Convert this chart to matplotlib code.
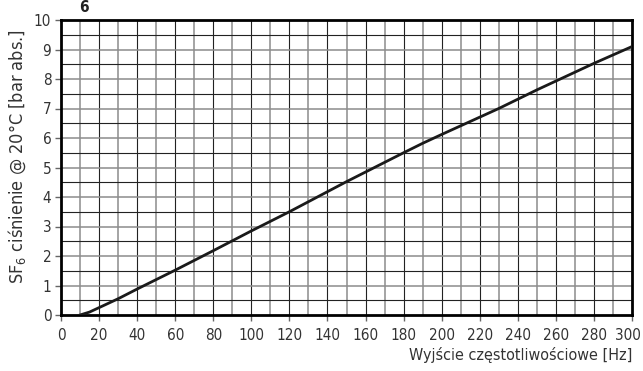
import numpy as np
import matplotlib
matplotlib.use("Agg")
import matplotlib.pyplot as plt
import matplotlib.transforms as mtransforms

plt.rcParams['font.family'] = ['DejaVu Sans']
plt.rcParams['font.stretch'] = 'condensed'

# krzywa cisnienia SF6 w funkcji czestotliwosci wyjsciowej
freq = [10, 15, 20, 30, 40, 50, 60, 80, 100, 120, 150, 180, 190, 200, 230, 250, 280, 300]
pressure = [0.0, 0.1, 0.25, 0.55, 0.88, 1.2, 1.52, 2.18, 2.85, 3.5, 4.52, 5.5, 5.82, 6.12, 7.0, 7.63, 8.53, 9.1]

xticks = list(range(0, 301, 20))
yticks = list(range(0, 11))

txt = '#333333'

fig = plt.figure(figsize=(6.43, 3.71), dpi=100)
ax = fig.add_axes([61/643, 56/371, 571/643, 295/371])

# siatka: linie szare i czarne naprzemiennie
for x in range(10, 300, 10):
    if x % 20 == 0:
        ax.axvline(x, color='#222222', lw=0.8, zorder=1)
    else:
        ax.axvline(x, color='#8c8c8c', lw=1.1, zorder=1)
for k in range(1, 20):
    y = k * 0.5
    if k % 2 == 0:
        ax.axhline(y, color='#8c8c8c', lw=1.1, zorder=1)
    else:
        ax.axhline(y, color='#222222', lw=0.8, zorder=1)

ax.plot(freq, pressure, color='#1a1a1a', lw=2.0, zorder=3)

ax.set_xlim(0, 300)
ax.set_ylim(0, 10)
ax.set_xticks(xticks)
ax.set_yticks(yticks)
ax.tick_params(axis='both', direction='out', length=4, width=1, color='#666666',
               labelsize=11, labelcolor=txt, pad=3)
ax.tick_params(axis='x', pad=5)
for s in ax.spines.values():
    s.set_linewidth(2)
    s.set_color('black')

# ostatnia etykieta osi x lekko w lewo, zeby zmiescila sie w obrazku
last = ax.get_xticklabels()[-1]
last.set_transform(last.get_transform() +
                   mtransforms.ScaledTranslation(-3/72, 0, fig.dpi_scale_trans))

ax.set_ylabel('SF$_6$ ciśnienie @ 20°C [bar abs.]', fontsize=13, color=txt)
ax.yaxis.set_label_coords(-0.058, 0.536)
ax.set_xlabel('Wyjście częstotliwościowe [Hz]', fontsize=11.5, color=txt)
ax.xaxis.set_label_coords(1.0, -0.11)
ax.xaxis.label.set_horizontalalignment('right')

fig.text(84/643, 1.0, '6', fontsize=11, fontweight='bold', color='#222222',
         ha='center', va='top')

fig.savefig('out.png', dpi=100)
